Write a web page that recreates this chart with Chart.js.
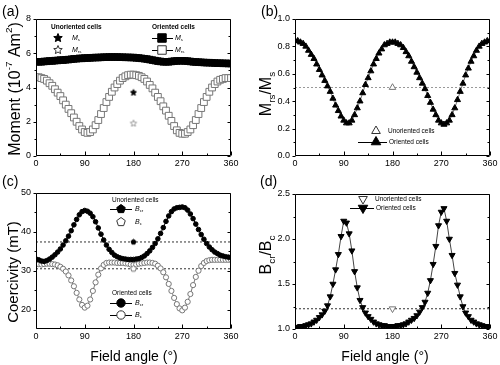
<!DOCTYPE html>
<html>
<head>
<meta charset="utf-8">
<script src="https://cdn.jsdelivr.net/npm/chart.js@4.4.0/dist/chart.umd.min.js"></script>
<style>
  html, body { margin: 0; padding: 0; background: #fff; }
  #wrap { position: relative; width: 500px; height: 365px; overflow: hidden; }
  #wrap canvas { position: absolute; left: 0; top: 0; }
</style>
</head>
<body>
<div id="wrap">
  <canvas id="pa" width="500" height="365"></canvas>
  <canvas id="pb" width="500" height="365"></canvas>
  <canvas id="pc" width="500" height="365"></canvas>
  <canvas id="pd" width="500" height="365"></canvas>
</div>
<script>
const FONT = '"Liberation Sans", Arial, sans-serif';

// field angle (degrees) of the measured points
const angles = [0, 5, 10, 15, 20, 25, 30, 35, 40, 45, 50, 55, 60, 65, 70, 75, 80, 85, 90, 95,
  100, 105, 110, 115, 120, 125, 130, 135, 140, 145, 150, 155, 160, 165, 170, 175, 180, 185, 190, 195,
  200, 205, 210, 215, 220, 225, 230, 235, 240, 245, 250, 255, 260, 265, 270, 275, 280, 285, 290, 295,
  300, 305, 310, 315, 320, 325, 330, 335, 340, 345, 350, 355, 360];
const xTicks = [0, 90, 180, 270, 360];

// (a) moment, 10^-7 Am^2
const msOriented = [5.5, 5.5, 5.5, 5.52, 5.53, 5.55, 5.55, 5.57, 5.58, 5.6,
  5.6, 5.62, 5.63, 5.65, 5.67, 5.68, 5.7, 5.7, 5.72, 5.72,
  5.73, 5.74, 5.75, 5.75, 5.76, 5.77, 5.77, 5.78, 5.78, 5.78,
  5.78, 5.77, 5.77, 5.76, 5.76, 5.75, 5.75, 5.73, 5.72, 5.7,
  5.68, 5.66, 5.63, 5.6, 5.57, 5.54, 5.52, 5.5, 5.5, 5.5,
  5.52, 5.54, 5.55, 5.56, 5.56, 5.55, 5.54, 5.52, 5.5, 5.49,
  5.48, 5.47, 5.46, 5.45, 5.45, 5.44, 5.43, 5.42, 5.42, 5.41,
  5.41, 5.4, 5.4];
const mrsOriented = [4.6, 4.6, 4.55, 4.5, 4.4, 4.25, 4.1, 3.9, 3.7, 3.5,
  3.25, 3.0, 2.75, 2.5, 2.25, 2.0, 1.75, 1.55, 1.4, 1.35,
  1.4, 1.55, 1.8, 2.1, 2.45, 2.8, 3.15, 3.45, 3.75, 4.0,
  4.2, 4.4, 4.55, 4.65, 4.72, 4.75, 4.75, 4.72, 4.68, 4.6,
  4.5, 4.35, 4.15, 3.95, 3.7, 3.45, 3.2, 2.9, 2.65, 2.35,
  2.05, 1.75, 1.5, 1.35, 1.3, 1.3, 1.4, 1.55, 1.8, 2.1,
  2.45, 2.8, 3.15, 3.45, 3.75, 4.0, 4.2, 4.35, 4.45, 4.5,
  4.55, 4.55, 4.55];
const unoAngle = [180];
const msUnoriented = [3.7];
const mrsUnoriented = [1.9];
const yTicksA = [0, 2, 4, 6, 8];

// (b) Mrs/Ms
const ratioOriented = [0.84, 0.84, 0.83, 0.82, 0.8, 0.77, 0.74, 0.71, 0.67, 0.63,
  0.59, 0.55, 0.51, 0.47, 0.42, 0.37, 0.33, 0.29, 0.26, 0.24,
  0.24, 0.26, 0.3, 0.35, 0.4, 0.46, 0.52, 0.57, 0.62, 0.67,
  0.71, 0.75, 0.78, 0.81, 0.82, 0.83, 0.83, 0.83, 0.82, 0.81,
  0.79, 0.76, 0.73, 0.69, 0.65, 0.61, 0.57, 0.53, 0.49, 0.44,
  0.39, 0.34, 0.3, 0.26, 0.24, 0.23, 0.24, 0.26, 0.3, 0.35,
  0.41, 0.47, 0.53, 0.59, 0.64, 0.69, 0.73, 0.77, 0.8, 0.82,
  0.83, 0.84, 0.84];
const ratioUnoriented = [0.5];
const yTicksB = [0, 0.2, 0.4, 0.6, 0.8, 1.0];

// (c) coercivity, mT
const bcrOriented = [33.0, 32.8, 32.5, 32.4, 32.6, 33.0, 33.5, 34.1, 34.8, 35.6,
  36.6, 37.7, 38.9, 40.3, 41.8, 43.2, 44.4, 45.2, 45.5, 45.3,
  44.8, 43.9, 42.6, 41.0, 39.4, 37.9, 36.6, 35.5, 34.7, 34.0,
  33.6, 33.3, 33.1, 33.0, 32.9, 32.9, 32.9, 33.0, 33.1, 33.4,
  33.8, 34.4, 35.1, 36.0, 37.0, 38.2, 39.6, 41.1, 42.7, 44.1,
  45.2, 45.9, 46.2, 46.3, 46.4, 46.2, 45.6, 44.6, 43.4, 42.0,
  40.6, 39.3, 38.1, 37.0, 36.1, 35.4, 34.8, 34.4, 34.0, 33.8,
  33.6, 33.5, 33.4];
const bcOriented = [31.8, 31.7, 31.6, 31.7, 31.8, 31.8, 31.7, 31.6, 31.4, 31.0,
  30.5, 29.8, 28.8, 27.5, 26.0, 24.3, 22.6, 21.2, 20.5, 21.0,
  22.6, 24.8, 27.0, 29.0, 30.6, 31.5, 32.0, 32.1, 32.1, 32.1,
  32.0, 32.0, 32.0, 31.9, 31.8, 31.6, 31.5, 31.6, 31.8, 31.9,
  32.0, 32.1, 32.1, 32.0, 31.8, 31.3, 30.6, 29.6, 28.3, 26.6,
  24.8, 23.0, 21.4, 20.3, 19.8, 20.5, 22.0, 24.0, 26.3, 28.4,
  30.0, 31.2, 32.0, 32.5, 32.7, 32.8, 32.8, 32.8, 32.8, 32.8,
  32.8, 32.8, 32.8];
const bcrUnoriented = [37.4];
const bcUnoriented = [30.5];
const yTicksC = [20, 30, 40, 50];

// (d) Bcr/Bc
const bratioOriented = [1.02, 1.02, 1.03, 1.03, 1.04, 1.05, 1.06, 1.08, 1.1, 1.13,
  1.16, 1.2, 1.26, 1.36, 1.5, 1.66, 1.83, 2.03, 2.2, 2.18,
  2.06, 1.87, 1.64, 1.46, 1.32, 1.24, 1.18, 1.14, 1.11, 1.08,
  1.06, 1.05, 1.04, 1.04, 1.03, 1.03, 1.03, 1.03, 1.04, 1.04,
  1.05, 1.06, 1.08, 1.1, 1.12, 1.15, 1.19, 1.24, 1.3, 1.4,
  1.54, 1.72, 1.92, 2.15, 2.3, 2.34, 2.2, 2.0, 1.82, 1.62,
  1.49, 1.36, 1.25, 1.18, 1.14, 1.1, 1.08, 1.06, 1.05, 1.04,
  1.03, 1.03, 1.02];
const bratioUnoriented = [1.225];
const yTicksD = [1.0, 1.5, 2.0, 2.5];

// small polygon / star images used as point styles
function makeShape(n, inner, r, fill, stroke) {
  const c = document.createElement('canvas');
  const s = Math.ceil(r * 2 + 3);
  c.width = s; c.height = s;
  const g = c.getContext('2d');
  const steps = inner ? n * 2 : n;
  g.beginPath();
  for (let i = 0; i < steps; i++) {
    const rr = inner && i % 2 ? r * inner : r;
    const ang = -Math.PI / 2 + i * 2 * Math.PI / steps;
    const px = s / 2 + rr * Math.cos(ang), py = s / 2 + rr * Math.sin(ang);
    if (i) g.lineTo(px, py); else g.moveTo(px, py);
  }
  g.closePath();
  g.fillStyle = fill; g.fill();
  if (stroke) { g.strokeStyle = stroke; g.lineWidth = 1; g.stroke(); }
  return c;
}

const GREY = '#777';
const M = {
  sqFill: { style: 'rect', r: 4.6, fill: '#000', stroke: '#000' },
  sqOpen: { style: 'rect', r: 4.8, fill: '#fff', stroke: GREY },
  starFill: { style: makeShape(5, 0.45, 3.2, '#000', '#000') },
  starOpen: { style: makeShape(5, 0.45, 3.4, '#fff', '#999') },
  triFill: { style: 'triangle', r: 3.5, fill: '#000', stroke: '#000' },
  triOpen: { style: 'triangle', r: 3.8, fill: '#fff', stroke: GREY },
  cirFill: { style: 'circle', r: 2.3, fill: '#000', stroke: '#000' },
  cirOpen: { style: 'circle', r: 2.6, fill: '#fff', stroke: GREY },
  pentFill: { style: makeShape(5, 0, 2.6, '#000', '#000') },
  pentOpen: { style: makeShape(5, 0, 3, '#fff', GREY) },
  dnFill: { style: 'triangle', r: 3.5, rot: 180, fill: '#000', stroke: '#000' },
  dnOpen: { style: 'triangle', r: 3.8, rot: 180, fill: '#fff', stroke: GREY }
};
// bigger versions for the legends
const L = {
  sqFill: { style: 'rect', r: 6, fill: '#000', stroke: '#000' },
  sqOpen: { style: 'rect', r: 6, fill: '#fff', stroke: '#333' },
  starFill: { style: makeShape(5, 0.45, 4.5, '#000', '#000') },
  starOpen: { style: makeShape(5, 0.45, 4.5, '#fff', '#333') },
  triFill: { style: 'triangle', r: 5.5, fill: '#000', stroke: '#000' },
  triOpen: { style: 'triangle', r: 5, fill: '#fff', stroke: '#333' },
  cirFill: { style: 'circle', r: 4.2, fill: '#000', stroke: '#000' },
  cirOpen: { style: 'circle', r: 4.2, fill: '#fff', stroke: '#333' },
  pentFill: { style: makeShape(5, 0, 4.5, '#000', '#000') },
  pentOpen: { style: makeShape(5, 0, 4.5, '#fff', '#333') },
  dnFill: { style: 'triangle', r: 5.5, rot: 180, fill: '#000', stroke: '#000' },
  dnOpen: { style: 'triangle', r: 5, rot: 180, fill: '#fff', stroke: '#333' }
};

function series(xs, ys, m, line) {
  return {
    data: xs.map((x, i) => ({ x: x, y: ys[i] })),
    showLine: !!line,
    borderColor: line || 'transparent',
    borderWidth: 1,
    pointStyle: m.style,
    pointRadius: m.r || 4,
    pointRotation: m.rot || 0,
    pointBackgroundColor: m.fill || '#000',
    pointBorderColor: m.stroke || '#000',
    pointBorderWidth: 1
  };
}

function refLine(v, color, dash) {
  return {
    data: [{ x: xTicks[0], y: v }, { x: xTicks[xTicks.length - 1], y: v }],
    showLine: true, borderColor: color, borderWidth: 1, borderDash: dash,
    pointRadius: 0
  };
}

// text with sub/superscripts
function rich(ctx, parts, x, y, size, opt) {
  opt = opt || {};
  ctx.save();
  ctx.translate(x, y);
  if (opt.rot) ctx.rotate(opt.rot);
  ctx.textBaseline = 'middle';
  ctx.textAlign = 'left';
  ctx.fillStyle = '#000';
  const fontOf = p => (p.i ? 'italic ' : '') + (opt.bold ? 'bold ' : '') +
    ((p.sup || p.sub) ? size * 0.62 : size) + 'px ' + FONT;
  let w = 0;
  const ws = parts.map(p => { ctx.font = fontOf(p); const m = ctx.measureText(p.s).width; w += m; return m; });
  let cx = opt.center ? -w / 2 : 0;
  parts.forEach((p, k) => {
    ctx.font = fontOf(p);
    const dy = p.sup ? -size * 0.4 : p.sub ? size * 0.3 : 0;
    ctx.fillText(p.s, cx, dy);
    cx += ws[k];
  });
  ctx.restore();
}

function mark(ctx, m, x, y) {
  ctx.save();
  ctx.fillStyle = m.fill || '#000';
  ctx.strokeStyle = m.stroke || '#000';
  ctx.lineWidth = 1;
  Chart.helpers.drawPoint(ctx, { pointStyle: m.style, radius: m.r || 4, rotation: m.rot || 0, borderWidth: 1 }, x, y);
  ctx.restore();
}

const frame = {
  id: 'frame',
  afterDatasetsDraw(chart) {
    const { ctx, chartArea: a } = chart;
    const xs = chart.scales.x, ys = chart.scales.y;
    const Lx = Math.round(a.left) + 0.5, Rx = Math.round(a.right) - 0.5;
    const Ty = Math.round(a.top) + 0.5, By = Math.round(a.bottom) - 0.5;
    ctx.save();
    ctx.strokeStyle = '#000';
    ctx.lineWidth = 1;
    ctx.beginPath();
    ctx.rect(Lx, Ty, Rx - Lx, By - Ty);
    xs.ticks.forEach((t, i) => {
      const px = Math.round(xs.getPixelForValue(t.value)) + 0.5;
      ctx.moveTo(px, By); ctx.lineTo(px, By - 4);
      if (i < xs.ticks.length - 1) {
        const mx = Math.round(xs.getPixelForValue((t.value + xs.ticks[i + 1].value) / 2)) + 0.5;
        ctx.moveTo(mx, By); ctx.lineTo(mx, By - 2);
      }
    });
    ys.ticks.forEach((t, i) => {
      const py = Math.round(ys.getPixelForValue(t.value)) + 0.5;
      ctx.moveTo(Lx - 3, py); ctx.lineTo(Lx, py);
      ctx.moveTo(Rx, py); ctx.lineTo(Rx - 3, py);
      if (i < ys.ticks.length - 1) {
        const my = Math.round(ys.getPixelForValue((t.value + ys.ticks[i + 1].value) / 2)) + 0.5;
        ctx.moveTo(Lx - 2, my); ctx.lineTo(Lx, my);
        ctx.moveTo(Rx, my); ctx.lineTo(Rx - 2, my);
      }
    });
    ctx.stroke();
    ctx.restore();
  },
  afterDraw(chart, args, opts) {
    const ctx = chart.ctx;
    (opts.items || []).forEach(it => {
      if (it.line) {
        ctx.save();
        ctx.strokeStyle = it.lineColor || '#000';
        ctx.lineWidth = 1;
        ctx.beginPath();
        ctx.moveTo(it.line[0], it.y + 0.5); ctx.lineTo(it.line[1], it.y + 0.5);
        ctx.stroke();
        ctx.restore();
      }
      if (it.m) mark(ctx, it.m, it.x, it.y);
      if (it.parts) rich(ctx, it.parts, it.tx !== undefined ? it.tx : it.x, it.y, it.size, it);
    });
  }
};

function makeChart(id, p) {
  return new Chart(document.getElementById(id), {
    type: 'line',
    data: { datasets: p.datasets },
    options: {
      responsive: false,
      animation: false,
      devicePixelRatio: 1,
      events: [],
      layout: { padding: p.pad },
      plugins: { legend: { display: false }, tooltip: { enabled: false }, frame: { items: p.items } },
      scales: {
        x: {
          type: 'linear', min: xTicks[0], max: xTicks[xTicks.length - 1],
          afterBuildTicks: s => { s.ticks = xTicks.map(v => ({ value: v })); },
          afterFit: s => { s.height = 18; },
          grid: { display: false, drawTicks: false }, border: { display: false },
          ticks: { padding: 2, color: '#000', font: { size: 9, family: FONT }, maxRotation: 0, autoSkip: false }
        },
        y: {
          type: 'linear', min: p.min, max: p.max,
          afterBuildTicks: s => { s.ticks = p.yTicks.map(v => ({ value: v })); },
          afterFit: s => { s.width = 30; },
          grid: { display: false, drawTicks: false }, border: { display: false },
          ticks: { padding: 5, color: '#000', font: { size: 9, family: FONT }, callback: p.fmt }
        }
      }
    },
    plugins: [frame]
  });
}

const UP = -Math.PI / 2;
const fieldTitle = [{ s: 'Field angle (\u00B0)' }];

// (a)
makeChart('pa', {
  pad: { left: 6, top: 19, right: 269, bottom: 191 },
  min: 0, max: 8, yTicks: yTicksA,
  datasets: [
    series(unoAngle, msUnoriented, M.starFill),
    series(unoAngle, mrsUnoriented, M.starOpen),
    series(angles, msOriented, M.sqFill, '#000'),
    series(angles, mrsOriented, M.sqOpen, GREY)
  ],
  items: [
    { parts: [{ s: '(a)' }], x: 2, y: 12, size: 14 },
    { parts: [{ s: 'Moment (10' }, { s: '-7', sup: 1 }, { s: ' Am' }, { s: '2', sup: 1 }, { s: ')' }], x: 16, y: 89, size: 16, rot: UP, center: 1 },
    { parts: [{ s: 'Unoriented cells' }], x: 51, y: 27, size: 6.5, bold: 1 },
    { m: L.starFill, x: 58, y: 38, parts: [{ s: 'M', i: 1 }, { s: 's', sub: 1 }], tx: 72, size: 7 },
    { m: L.starOpen, x: 58, y: 50, parts: [{ s: 'M', i: 1 }, { s: 'rs', sub: 1 }], tx: 72, size: 7 },
    { parts: [{ s: 'Oriented cells' }], x: 152, y: 27, size: 6.5, bold: 1 },
    { line: [152, 173], m: L.sqFill, x: 162, y: 38, parts: [{ s: 'M', i: 1 }, { s: 's', sub: 1 }], tx: 175, size: 7 },
    { line: [152, 173], m: L.sqOpen, x: 162, y: 50, parts: [{ s: 'M', i: 1 }, { s: 'rs', sub: 1 }], tx: 175, size: 7 }
  ]
});

// (b)
makeChart('pb', {
  pad: { left: 265, top: 19, right: 10, bottom: 191 },
  min: 0, max: 1, yTicks: yTicksB, fmt: v => v.toFixed(1),
  datasets: [
    series(unoAngle, ratioUnoriented, M.triOpen),
    series(angles, ratioOriented, M.triFill, GREY),
    refLine(ratioUnoriented[0], '#999', [2, 2])
  ],
  items: [
    { parts: [{ s: '(b)' }], x: 261, y: 12, size: 14 },
    { parts: [{ s: 'M' }, { s: 'rs', sub: 1 }, { s: '/M' }, { s: 's', sub: 1 }], x: 267, y: 94, size: 16, rot: UP, center: 1 },
    { m: L.triOpen, x: 376, y: 131, parts: [{ s: 'Unoriented cells' }], tx: 388, size: 6.5 },
    { line: [358, 387], m: L.triFill, x: 376, y: 142, parts: [{ s: 'Oriented cells' }], tx: 389, size: 6.5 }
  ]
});

// (c)
makeChart('pc', {
  pad: { left: 6, top: 193, right: 269, bottom: 18 },
  min: 15, max: 50, yTicks: yTicksC,
  datasets: [
    series(unoAngle, bcrUnoriented, M.pentFill),
    series(unoAngle, bcUnoriented, M.pentOpen),
    series(angles, bcrOriented, M.cirFill, '#000'),
    series(angles, bcOriented, M.cirOpen, GREY),
    refLine(bcrUnoriented[0], '#333', [2, 2]),
    refLine(bcUnoriented[0], '#333', [2, 2])
  ],
  items: [
    { parts: [{ s: '(c)' }], x: 2, y: 182, size: 14 },
    { parts: [{ s: 'Coercivity (mT)' }], x: 14, y: 272, size: 15, rot: UP, center: 1 },
    { parts: fieldTitle, x: 134, y: 357, size: 14, center: 1 },
    { parts: [{ s: 'Unoriented cells' }], x: 112, y: 200, size: 6.5 },
    { line: [110, 132], m: L.pentFill, x: 121, y: 209, parts: [{ s: 'B', i: 1 }, { s: 'cr', sub: 1 }], tx: 135, size: 7 },
    { m: L.pentOpen, x: 121, y: 222, parts: [{ s: 'B', i: 1 }, { s: 'c', sub: 1 }], tx: 135, size: 7 },
    { parts: [{ s: 'Oriented cells' }], x: 112, y: 293, size: 6.5 },
    { line: [110, 132], m: L.cirFill, x: 121, y: 303, parts: [{ s: 'B', i: 1 }, { s: 'cr', sub: 1 }], tx: 135, size: 7 },
    { line: [110, 132], m: L.cirOpen, x: 121, y: 315, parts: [{ s: 'B', i: 1 }, { s: 'c', sub: 1 }], tx: 135, size: 7 }
  ]
});

// (d)
makeChart('pd', {
  pad: { left: 265, top: 194, right: 10, bottom: 18 },
  min: 1, max: 2.5, yTicks: yTicksD, fmt: v => v.toFixed(1),
  datasets: [
    series(unoAngle, bratioUnoriented, M.dnOpen),
    series(angles, bratioOriented, M.dnFill, '#444'),
    refLine(bratioUnoriented[0], '#333', [2, 2])
  ],
  items: [
    { parts: [{ s: '(d)' }], x: 260, y: 182, size: 14 },
    { parts: [{ s: 'B' }, { s: 'cr', sub: 1 }, { s: '/B' }, { s: 'c', sub: 1 }], x: 267, y: 255, size: 16, rot: UP, center: 1 },
    { parts: fieldTitle, x: 385, y: 357, size: 14, center: 1 },
    { m: L.dnOpen, x: 363, y: 199, parts: [{ s: 'Unoriented cells' }], tx: 375, size: 6.5 },
    { line: [350, 374], m: L.dnFill, x: 363, y: 208, parts: [{ s: 'Oriented cells' }], tx: 376, size: 6.5 }
  ]
});
</script>
</body>
</html>
